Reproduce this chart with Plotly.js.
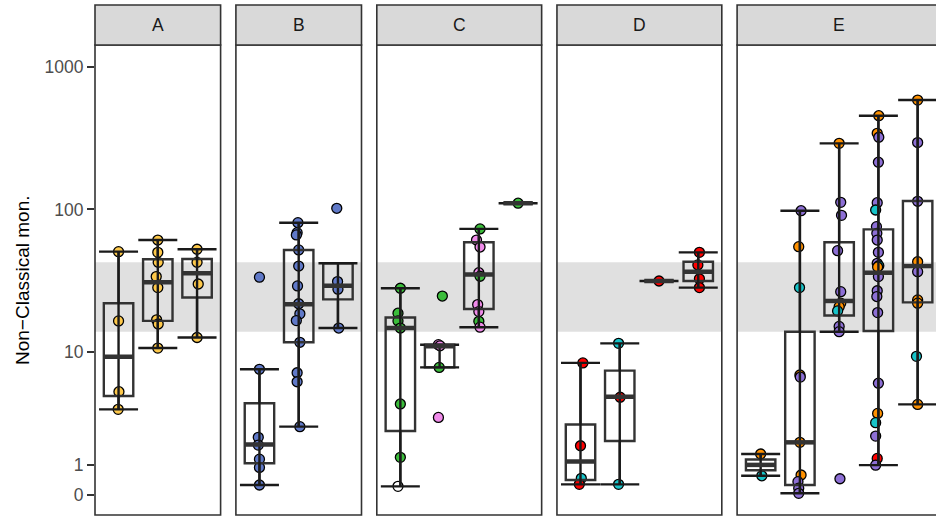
<!DOCTYPE html>
<html>
<head>
<meta charset="utf-8">
<script src="https://cdn.plot.ly/plotly-3.0.1.min.js"></script>
<style>html,body{margin:0;padding:0;background:#fff;}#chart{width:936px;height:517px;}</style>
</head>
<body>
<div id="chart"></div>
<script>
// ---------------- data ----------------
const panels = ['A', 'B', 'C', 'D', 'E'];
const nGroups = [3, 3, 4, 4, 5];
const yTickVals = [0, 1, 10, 100, 1000];
const yTickText = ['0', '1', '10', '100', '1000'];
const bandLow = 13.85, bandHigh = 42.6;

// Panel A
const A_grp = [1,1,1,1, 2,2,2,2,2,2,2,2, 3,3,3,3];
const A_val = [50.6,16.5,5.1,3.73, 61.0,50.0,42.6,33.8,28.3,16.8,15.7,10.6, 52.6,42.6,30.0,12.6];
const A_col = ['yellow','yellow','yellow','yellow','yellow','yellow','yellow','yellow','yellow','yellow','yellow','yellow','yellow','yellow','yellow','yellow'];
const A_jit = [0,0,0.01,-0.01, 0,0,0.01,-0.04,0,-0.03,0.01,0, 0,0,0.03,0];
const A_low = [3.73, 10.6, 12.6];
const A_q1  = [4.73, 16.5, 24.1];
const A_med = [9.2, 30.9, 35.7];
const A_q3  = [22.0, 44.7, 44.9];
const A_up  = [50.6, 61.0, 52.6];

// Panel B
const B_grp = [1,1,1,1,1,1,1, 2,2,2,2,2,2,2,2,2,2,2,2,2, 3,3,3,3];
const B_val = [7.46,2.14,1.79,1.22,0.92,0.324,33.5, 80.7,68.7,66.2,52.0,40.1,29.1,21.8,18.5,16.6,11.65,7.04,6.05,2.68, 101.8,31.2,27.6,14.7];
const B_col = ['blue','blue','blue','blue','blue','blue','blue','blue','blue','blue','blue','blue','blue','blue','blue','blue','blue','blue','blue','blue','blue','blue','blue','blue'];
const B_jit = [0,-0.03,-0.03,0,0,0,0, -0.02,-0.04,-0.06,0,0,-0.03,0,0.03,-0.06,0.03,-0.04,-0.04,0.03, -0.03,-0.01,0,0.02];
const B_low = [0.324, 2.68, 14.7];
const B_q1  = [1.07, 11.65, 23.4];
const B_med = [1.82, 21.6, 29.2];
const B_q3  = [4.16, 52.0, 41.9];
const B_up  = [7.46, 80.7, 41.9];

// Panel C
const C_grp = [1,1,1,1,1,1,1, 2,2,2,2,2, 3,3,3,3,3,3,3,3,3, 4];
const C_val = [28.0,18.7,16.5,14.7,4.11,1.29,0.28, 11.2,11.0,7.7,24.7,3.21, 73.0,61.0,54.5,36.0,34.0,21.5,19.2,16.4,14.9, 110.5];
const C_col = ['green','green','green','green','green','green','white', 'pink','pink','green','green','pink', 'green','pink','pink','pink','green','pink','pink','green','pink', 'green'];
const C_jit = [0,-0.06,-0.06,0,0,0,-0.06, -0.03,0.01,-0.01,0.07,-0.03, 0.03,-0.06,0.03,0,0.03,-0.03,0,0,0.03, 0];
const C_low = [0.28, 7.7, 14.9, 110.5];
const C_q1  = [2.45, 7.7, 20.0, 110.5];
const C_med = [14.7, 10.9, 35.0, 110.5];
const C_q3  = [17.45, 11.2, 58.8, 110.5];
const C_up  = [28.0, 11.2, 73.0, 110.5];

// Panel D
const D_grp = [1,1,1,1, 2,2,2, 3, 4,4,4,4];
const D_val = [8.3,1.76,0.545,0.346, 11.45,4.63,0.346, 31.5, 50.0,40.8,32.6,28.3];
const D_col = ['red','red','teal','red', 'teal','red','teal', 'red', 'red','red','red','red'];
const D_jit = [0.06,0,0.02,-0.03, -0.03,0.01,-0.03, 0, 0.03,-0.01,0.03,0.03];
const D_low = [0.346, 0.346, 31.5, 28.3];
const D_q1  = [0.49, 1.97, 31.5, 31.5];
const D_med = [1.13, 4.68, 31.5, 36.6];
const D_q3  = [2.8, 7.3, 31.5, 43.0];
const D_up  = [8.3, 11.45, 31.5, 50.0];

// Panel E
const E_grp = [1,1,
  2,2,2,2,2,2,2,2,2,2,
  3,3,3,3,3,3,3,3,3,3,3,
  4,4,4,4,4,4,4,4,4,4,4,4,4,4,4,4,4,4,4,4,4,4,4,
  5,5,5,5,5,5,5,5,5];
const E_val = [1.42,0.63,
  97.9,54.8,28.3,6.78,6.55,1.91,0.656,0.434,0.22,0.055,
  290,112,90.9,51.4,26.5,22.0,20.8,19.4,15.1,13.85,0.53,
  453,341,320,214,111.4,99,75.7,68,61,50,41.9,40.3,39.5,33.8,26.9,24.5,18.9,5.9,3.46,2.9,2.2,1.25,1.0,
  583,294,114,43,36.6,23.2,22,9.25,4.08];
const E_col = ['orange','teal',
  'purple','orange','teal','orange','purple','orange','orange','purple','purple','purple',
  'orange','purple','purple','purple','purple','orange','orange','teal','purple','purple','purple',
  'orange','orange','purple','purple','purple','teal','purple','purple','purple','purple','purple','teal','orange','purple','purple','purple','purple','purple','orange','teal','purple','red','purple',
  'orange','purple','purple','orange','purple','orange','orange','teal','orange'];
const E_jit = [0,0.03,
  0.03,-0.03,-0.01,0,0.01,0,0.03,-0.05,-0.03,-0.03,
  0,0.04,0.06,-0.04,0.04,0.04,0,-0.04,0,0,0.02,
  0.01,-0.03,0.01,0,-0.03,-0.07,-0.05,-0.04,-0.03,0,-0.03,0.01,-0.02,0,-0.03,-0.04,-0.02,0,-0.02,-0.07,-0.07,-0.03,-0.07,
  0,0,0,0,0,0,0,-0.03,0];
const E_low = [0.63, 0.055, 13.85, 1.0, 4.08];
const E_q1  = [0.819, 0.324, 18.0, 14.0, 22.3];
const E_med = [1.01, 1.91, 22.8, 36.0, 40.1];
const E_q3  = [1.21, 13.85, 58.85, 72.5, 114.5];
const E_up  = [1.42, 97.9, 290, 453, 583];

// ---------------- styles ----------------
const palette = {
  yellow: '#FDC84A', blue: '#6079C8', green: '#3BBD3B', pink: '#F08BEA',
  white: '#FFFFFF', red: '#FF0000', teal: '#17C4C9', orange: '#FF9100', purple: '#8D6FD5'
};
const FONT = 'Liberation Sans, Arial, Helvetica, sans-serif';

// pseudo-log transform (asinh(x/2)/ln10), as in the reference's y scale
const tf = v => Math.asinh(v / 2) / Math.LN10;

const data = {
  A: [A_grp, A_val, A_col, A_jit, A_low, A_q1, A_med, A_q3, A_up],
  B: [B_grp, B_val, B_col, B_jit, B_low, B_q1, B_med, B_q3, B_up],
  C: [C_grp, C_val, C_col, C_jit, C_low, C_q1, C_med, C_q3, C_up],
  D: [D_grp, D_val, D_col, D_jit, D_low, D_q1, D_med, D_q3, D_up],
  E: [E_grp, E_val, E_col, E_jit, E_low, E_q1, E_med, E_q3, E_up]
};

// ---------------- layout geometry ----------------
const W = 936, H = 517;
const mL = 95, mR = 0, mT = 45, mB = 2;
const plotW = W - mL - mR, plotH = H - mT - mB;
const unit = 39.25, gap = 15.3;
const yMin = -0.14, yMax = 3.1513;

const traces = [];
const shapes = [];
const annotations = [];
const layout = {
  width: W, height: H,
  margin: {l: mL, r: mR, t: mT, b: mB, pad: 0},
  paper_bgcolor: '#fff', plot_bgcolor: 'rgba(0,0,0,0)',
  showlegend: false, hovermode: false,
  font: {family: FONT}
};

let startPx = mL;
panels.forEach((p, i) => {
  const n = nGroups[i];
  const wPx = (n + 0.2) * unit;
  const endPx = startPx + wPx;
  const d0 = (startPx - mL) / plotW;
  const d1 = Math.min(1, (endPx - mL) / plotW);
  const visEnd = Math.min(endPx, W - mR);
  const xr = [0.4, 0.4 + (visEnd - startPx) / unit];

  const bx = 'x' + (i + 1), by = 'y' + (i + 1);
  const ox = 'x' + (i + 6), oy = 'y' + (i + 6);
  const xBase = {domain: [d0, d1], range: xr, anchor: by, showgrid: false, zeroline: false,
                 showticklabels: false, ticks: '', showline: false, fixedrange: true};
  layout['xaxis' + (i + 1)] = xBase;
  layout['yaxis' + (i + 1)] = {
    domain: [0, 1], range: [yMin, yMax], anchor: bx, showgrid: false, zeroline: false, showline: false,
    tickmode: 'array', tickvals: yTickVals.map(tf), ticktext: yTickText,
    showticklabels: i === 0, ticks: i === 0 ? 'outside' : '', ticklen: 7, tickwidth: 2, tickcolor: '#333333',
    tickfont: {family: FONT, size: 17.5, color: '#4D4D4D'}, fixedrange: true
  };
  layout['xaxis' + (i + 6)] = Object.assign({}, xBase, {anchor: oy, overlaying: bx, visible: false});
  layout['yaxis' + (i + 6)] = {domain: [0, 1], range: [yMin, yMax], anchor: ox, overlaying: by,
                               visible: false, fixedrange: true};

  const [grp, val, col, jit, low, q1, med, q3, up] = data[p];
  const pos = low.map((_, k) => k + 1);

  // shaded reference band
  shapes.push({type: 'rect', xref: bx + ' domain', yref: by, x0: 0, x1: 1,
               y0: tf(bandLow), y1: tf(bandHigh), fillcolor: '#E0E0E0', line: {width: 0}, layer: 'below'});

  // jittered points (base subplot, below boxes)
  traces.push({
    type: 'scatter', mode: 'markers', xaxis: bx, yaxis: by,
    x: grp.map((g, k) => g + jit[k]), y: val.map(tf),
    marker: {size: 10, color: col.map(c => palette[c]), line: {color: '#000000', width: 1.3}},
    hoverinfo: 'skip', cliponaxis: true
  });

  // box bodies (overlay subplot)
  traces.push({
    type: 'box', xaxis: ox, yaxis: oy, x: pos,
    q1: q1.map(tf), median: med.map(tf), q3: q3.map(tf),
    lowerfence: low.map(tf), upperfence: up.map(tf),
    width: 0.75, whiskerwidth: 0, boxpoints: false,
    fillcolor: 'rgba(0,0,0,0)', line: {color: '#333333', width: 2.4}, hoverinfo: 'skip'
  });
  // whisker error bars with caps
  traces.push({
    type: 'scatter', mode: 'markers', xaxis: ox, yaxis: oy, x: pos, y: med.map(tf),
    marker: {size: 1, opacity: 0},
    error_y: {type: 'data', symmetric: false,
              array: up.map((u, k) => tf(u) - tf(med[k])),
              arrayminus: low.map((l, k) => tf(med[k]) - tf(l)),
              width: 19.5, thickness: 2.4, color: '#1A1A1A'},
    hoverinfo: 'skip'
  });
  // thick median segments
  traces.push({
    type: 'scatter', mode: 'markers', xaxis: ox, yaxis: oy, x: pos, y: med.map(tf),
    marker: {symbol: 'line-ew', size: 21, color: '#333333', line: {color: '#333333', width: 4.5}},
    hoverinfo: 'skip'
  });

  // panel border
  const px0 = (startPx - mL) / plotW, px1 = (endPx - mL) / plotW;
  shapes.push({type: 'rect', xref: 'paper', yref: 'paper', x0: px0, x1: px1, y0: 0, y1: 1,
               line: {color: '#333333', width: 1.6}, fillcolor: 'rgba(0,0,0,0)', layer: 'above'});
  // strip
  const sTop = 1 + (mT - 5) / plotH;
  shapes.push({type: 'rect', xref: 'paper', yref: 'paper', x0: px0, x1: px1, y0: 1, y1: sTop,
               line: {color: '#333333', width: 1.6}, fillcolor: '#D9D9D9', layer: 'above'});
  annotations.push({xref: 'paper', yref: 'paper', x: (px0 + px1) / 2,
                    y: (1 + sTop) / 2, text: p, showarrow: false, xanchor: 'center', yanchor: 'middle',
                    font: {family: FONT, size: 17.5, color: '#1A1A1A'}});

  startPx = endPx + gap;
});

annotations.push({xref: 'paper', yref: 'paper', x: (22 - mL) / plotW, y: 0.5, xanchor: 'center', yanchor: 'middle',
                  text: 'Non\u2212Classical mon.', textangle: -90, showarrow: false,
                  font: {family: FONT, size: 19, color: '#000000'}});

layout.shapes = shapes;
layout.annotations = annotations;

Plotly.newPlot('chart', traces, layout, {staticPlot: true, displayModeBar: false});
</script>
</body>
</html>
